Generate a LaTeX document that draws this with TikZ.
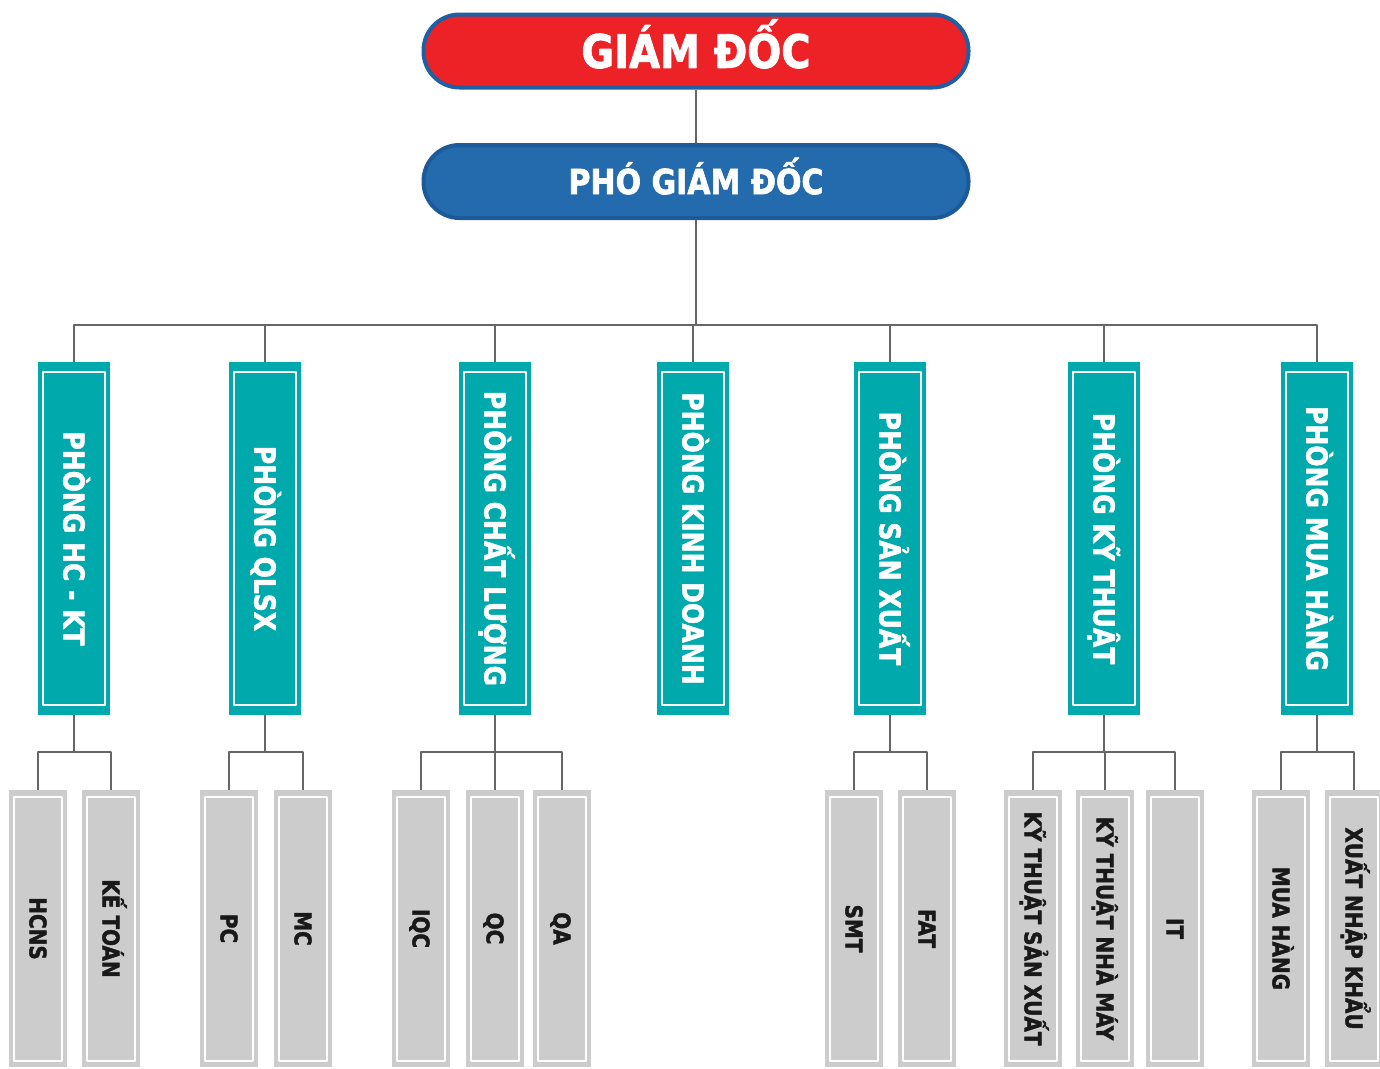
\documentclass[tikz,border=0pt]{standalone}
\usepackage{fontspec}
\setmainfont{DejaVu Sans}[BoldFeatures={FakeBold=2}]
\usetikzlibrary{calc}
\definecolor{gdred}{HTML}{EC2227}
\definecolor{gdblue}{HTML}{1F5FA3}
\definecolor{pgdblue}{HTML}{236BAD}
\definecolor{pgdline}{HTML}{1D5A9A}
\definecolor{phteal}{HTML}{00A9AC}
\definecolor{bpgray}{HTML}{CCCCCC}
\definecolor{lineg}{HTML}{666666}
\tikzset{
	head/.style={line width=4pt, rounded corners=36pt, minimum width=545pt, minimum height=73pt, inner sep=0pt, text=white, text depth=0pt},
	phong/.style={fill=phteal, minimum width=72pt, minimum height=353pt, inner sep=0pt, text=white, font=\bfseries\fontsize{25}{30}\selectfont},
	bophan/.style={fill=bpgray, minimum width=58pt, minimum height=277pt, inner sep=0pt, text=black!90, font=\bfseries\fontsize{20}{24}\selectfont},
	ket/.style={draw=lineg, line width=2.5pt},
}
\newcommand\doc[2][21pt]{\rotatebox{-90}{\raisebox{0pt}[#1][0pt]{\scalebox{1}[1.15]{#2}}}}
\begin{document}
\begin{tikzpicture}[x=1pt, y=-1pt, line join=round]
	\useasboundingbox (0,0) rectangle (1380,1068);
	\def\yp{538.5} % tam hang phong
	\def\yb{928.5} % tam hang bo phan
	\coordinate (bus) at (0,325);
	% giam doc
	\node[head, fill=gdred, draw=gdblue, text height=33.6pt, font=\bfseries\fontsize{40}{48}\selectfont] (gd) at (696,51) {\scalebox{1}[1.15]{GIÁM ĐỐC}};
	\node[head, fill=pgdblue, draw=pgdline, text height=25.2pt, font=\bfseries\fontsize{30}{36}\selectfont] (pgd) at (696,181.5) {\scalebox{1}[1.15]{PHÓ GIÁM ĐỐC}};
	% cac phong
	\foreach \x/\n/\t in {74/p1/PHÒNG HC - KT, 265/p2/PHÒNG QLSX, 495/p3/PHÒNG CHẤT LƯỢNG, 693/p4/PHÒNG KINH DOANH, 890/p5/PHÒNG SẢN XUẤT, 1104/p6/PHÒNG KỸ THUẬT, 1317/p7/PHÒNG MUA HÀNG}
		\node[phong] (\n) at (\x,\yp) {\doc{\t}};
	% cac bo phan
	\foreach \x/\n/\t in {38/c1/HCNS, 111/c2/KẾ TOÁN, 229/c3/PC, 303/c4/MC, 421/c5/IQC, 495/c6/QC, 562/c7/QA, 854/c8/SMT, 927/c9/FAT, 1033/c10/KỸ THUẬT SẢN XUẤT, 1105/c11/KỸ THUẬT NHÀ MÁY, 1175/c12/IT, 1281/c13/MUA HÀNG, 1354/c14/XUẤT NHẬP KHẨU}
		\node[bophan] (\n) at (\x,\yb) {\doc[16.8pt]{\t}};
	% vien trang ben trong
	\foreach \n in {p1,p2,p3,p4,p5,p6,p7}
		\draw[white, line width=2pt] ($(\n.north west)+(5.5,10)$) rectangle ($(\n.south east)+(-5.5,-10)$);
	\foreach \n in {c1,c2,c3,c4,c5,c6,c7,c8,c9,c10,c11,c12,c13,c14}
		\draw[white, line width=2pt] ($(\n.north west)+(5,7.5)$) rectangle ($(\n.south east)+(-5,-6)$);
	% duong noi
	\draw[ket] (gd) -- (pgd);
	\foreach \n in {p1,p2,p3,p4,p5,p6,p7}
		\draw[ket] (pgd.south) -- (pgd.south |- bus) -| (\n.north);
	\foreach \p/\c in {p1/c1,p1/c2,p2/c3,p2/c4,p3/c5,p3/c6,p3/c7,p5/c8,p5/c9,p6/c10,p6/c11,p6/c12,p7/c13,p7/c14}
		\draw[ket] (\p.south) -- ++(0,37) -| (\c.north);
\end{tikzpicture}
\end{document}
